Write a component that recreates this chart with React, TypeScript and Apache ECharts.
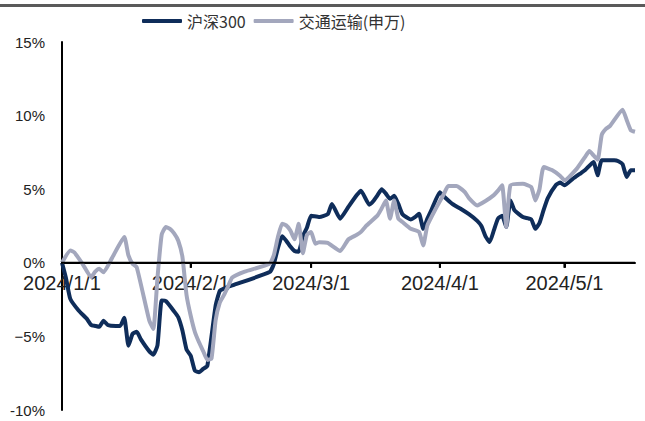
import React, { useEffect, useRef } from "react";
import * as echarts from "echarts";

const seriesNames = ["沪深300", "交通运输(申万)"];

const yTickValues = [-10, -5, 0, 5, 10, 15];
const yTickLabels = ["-10%", "−5%", "0%", "5%", "10%", "15%"];

const monthTicks = ["2024-01-01", "2024-02-01", "2024-03-01", "2024-04-01", "2024-05-01"];
const xEnd = "2024-05-18";

const hs300Dates = [
  "2024-01-01", "2024-01-02", "2024-01-03", "2024-01-05", "2024-01-07", "2024-01-08", "2024-01-09",
  "2024-01-10", "2024-01-11", "2024-01-12", "2024-01-14", "2024-01-15", "2024-01-16", "2024-01-17",
  "2024-01-18", "2024-01-19", "2024-01-20", "2024-01-22", "2024-01-23", "2024-01-24", "2024-01-25",
  "2024-01-26", "2024-01-28", "2024-01-29", "2024-01-30", "2024-01-31",
  "2024-02-01", "2024-02-02", "2024-02-03", "2024-02-04", "2024-02-05", "2024-02-07", "2024-02-08",
  "2024-02-09", "2024-02-11", "2024-02-20", "2024-02-21", "2024-02-22", "2024-02-23", "2024-02-24",
  "2024-02-25", "2024-02-26", "2024-02-27", "2024-02-28", "2024-02-29",
  "2024-03-01", "2024-03-03", "2024-03-05", "2024-03-06", "2024-03-08", "2024-03-10", "2024-03-12",
  "2024-03-13", "2024-03-15", "2024-03-16", "2024-03-17", "2024-03-18", "2024-03-19", "2024-03-20",
  "2024-03-21", "2024-03-22", "2024-03-23", "2024-03-25", "2024-03-26", "2024-03-27", "2024-03-28",
  "2024-03-29", "2024-03-30",
  "2024-04-01", "2024-04-02", "2024-04-04", "2024-04-06", "2024-04-08", "2024-04-10", "2024-04-11",
  "2024-04-12", "2024-04-13", "2024-04-14", "2024-04-15", "2024-04-16", "2024-04-17", "2024-04-18",
  "2024-04-19", "2024-04-21", "2024-04-23", "2024-04-24", "2024-04-25", "2024-04-26", "2024-04-27",
  "2024-04-29", "2024-04-30",
  "2024-05-01", "2024-05-03", "2024-05-05", "2024-05-06", "2024-05-08", "2024-05-09", "2024-05-10",
  "2024-05-13", "2024-05-14", "2024-05-15", "2024-05-16", "2024-05-17", "2024-05-18",
];
const hs300Values = [
  0, -1.09, -2.45, -3.24, -3.81, -4.22, -4.29,
  -4.35, -3.93, -4.22, -4.29, -4.29, -3.74, -5.63,
  -4.83, -4.69, -5.2, -6.0, -6.24, -5.6, -2.56,
  -2.6, -3.3, -3.7, -4.6, -5.9,
  -6.31, -7.33, -7.44, -7.21, -7.0, -2.9, -1.9,
  -1.75, -1.54, -0.63, -0.1, 1.0, 1.8, 1.5,
  1.1, 0.8, 0.75, 1.8, 2.4,
  3.2, 3.11, 3.3, 4.0, 3.0, 3.81, 4.6,
  4.9, 3.95, 4.2, 4.6, 5.0, 4.7, 4.35,
  4.55, 4.0, 3.3, 2.95, 3.1, 3.33, 2.31,
  3.0, 3.6,
  4.8, 4.5, 4.0, 3.67, 3.3, 2.85, 2.5,
  1.8, 1.41, 2.2, 3.0, 3.2, 2.43, 4.24,
  3.56, 3.11, 2.95, 2.31, 2.7, 3.6, 4.4,
  5.3, 5.45,
  5.26, 5.7, 6.1, 6.3, 6.85, 5.94, 6.96,
  6.96, 6.9, 6.7, 5.83, 6.28, 6.28,
];

const transportDates = [
  "2024-01-01", "2024-01-03", "2024-01-04", "2024-01-06", "2024-01-08", "2024-01-09", "2024-01-10",
  "2024-01-11", "2024-01-13", "2024-01-16", "2024-01-17", "2024-01-18", "2024-01-19", "2024-01-22",
  "2024-01-23", "2024-01-24", "2024-01-25", "2024-01-26", "2024-01-27", "2024-01-28", "2024-01-29",
  "2024-01-30", "2024-01-31",
  "2024-02-01", "2024-02-02", "2024-02-03", "2024-02-04", "2024-02-05", "2024-02-06", "2024-02-07",
  "2024-02-08", "2024-02-09", "2024-02-10", "2024-02-11", "2024-02-14", "2024-02-20", "2024-02-21",
  "2024-02-22", "2024-02-23", "2024-02-24", "2024-02-25", "2024-02-26", "2024-02-27", "2024-02-28",
  "2024-02-29",
  "2024-03-01", "2024-03-02", "2024-03-03", "2024-03-05", "2024-03-08", "2024-03-10", "2024-03-12",
  "2024-03-13", "2024-03-14", "2024-03-15", "2024-03-17", "2024-03-18", "2024-03-19", "2024-03-20",
  "2024-03-21", "2024-03-22", "2024-03-23", "2024-03-25", "2024-03-27", "2024-03-28", "2024-03-29",
  "2024-03-31",
  "2024-04-02", "2024-04-03", "2024-04-05", "2024-04-07", "2024-04-08", "2024-04-10", "2024-04-12",
  "2024-04-14", "2024-04-15", "2024-04-16", "2024-04-17", "2024-04-18", "2024-04-21", "2024-04-23",
  "2024-04-24", "2024-04-25", "2024-04-26", "2024-04-28", "2024-04-30",
  "2024-05-01", "2024-05-04", "2024-05-06", "2024-05-07", "2024-05-08", "2024-05-09", "2024-05-10",
  "2024-05-11", "2024-05-12", "2024-05-15", "2024-05-16", "2024-05-17", "2024-05-18",
];
const transportValues = [
  0, 0.84, 0.7, -0.1, -0.97, -0.6, -0.41,
  -0.65, 0.3, 1.75, 0.5, -0.07, -0.3, -3.9,
  -4.5, -1.0, 1.9, 2.43, 2.3, 2.0, 1.5,
  0.4, -2.2,
  -3.6, -4.7, -5.4, -6.0, -6.6, -6.5, -3.9,
  -2.7, -2.2, -1.6, -1.0, -0.6, -0.07, 0.5,
  1.75, 2.65, 2.54, 2.2, 1.6, 2.65, 0.65,
  1.9,
  2.09, 1.3, 1.4, 1.35, 0.8, 1.6, 1.9,
  2.1, 2.43, 2.7, 3.22, 3.7, 4.24, 3.0,
  4.24, 3.0, 2.77, 2.31, 2.09, 1.18, 2.54,
  3.67,
  4.69, 5.22, 5.22, 4.81, 4.4, 3.9, 4.2,
  4.6, 4.9, 5.26, 2.43, 5.26, 5.37, 5.15,
  4.24, 5.0, 6.51, 6.3, 5.9,
  5.6, 6.4, 7.2, 7.6, 7.3, 7.0, 8.7,
  9.1, 9.3, 10.4, 9.7, 9.0, 8.9,
];

const colors = ["#0f2d5a", "#a3a7bd"];

const GRID_TOP = 42;
const GRID_BOTTOM = 11;
const CHART_H = 421;
const TICK_PX = 5;

const toTs = (s: string) => {
  const [Y, M, D] = s.split("-").map(Number);
  return new Date(Y, M - 1, D).getTime();
};

export default function App() {
  const ref = useRef<HTMLDivElement>(null);

  useEffect(() => {
    if (!ref.current) return;
    const chart = echarts.init(ref.current, null, { renderer: "svg" });
    const day = 24 * 3600 * 1000;
    const yMin = yTickValues[0];
    const yMax = yTickValues[yTickValues.length - 1];
    const plotH = CHART_H - GRID_TOP - GRID_BOTTOM;
    const zeroOffset = -plotH * (0 - yMin) / (yMax - yMin);

    const topBar = {
      type: "rect",
      id: "topbar",
      shape: { x: 0, y: 4, width: 645, height: 3 },
      style: { fill: "#5a5a5a" },
      silent: true,
    };

    const option = {
      animation: false,
      color: colors,
      graphic: [topBar],
      legend: {
        top: 8,
        left: 137,
        itemWidth: 40,
        itemHeight: 4,
        itemGap: 8,
        icon: "roundRect",
        textStyle: { fontSize: 16, color: "#333", fontFamily: "'Noto Sans CJK SC', sans-serif" },
        data: seriesNames,
      },
      grid: { left: 62, right: 10, top: GRID_TOP, bottom: GRID_BOTTOM, containLabel: false },
      xAxis: {
        type: "time",
        position: "bottom",
        offset: zeroOffset,
        min: monthTicks[0],
        max: xEnd,
        splitNumber: 5,
        minInterval: 28 * day,
        maxInterval: 31 * day,
        axisLine: { show: true, onZero: false, lineStyle: { color: "#000", width: 2 } },
        axisTick: { show: true, length: TICK_PX, lineStyle: { color: "#000", width: 2 } },
        splitLine: { show: false },
        axisLabel: {
          fontSize: 20,
          color: "#222",
          margin: 10,
          fontFamily: "'Liberation Sans', Arial, sans-serif",
          formatter: (val: number) => {
            const d = new Date(val);
            return `${d.getFullYear()}/${d.getMonth() + 1}/${d.getDate()}`;
          },
        },
      },
      yAxis: {
        type: "value",
        min: yMin,
        max: yMax,
        interval: 5,
        axisLine: { show: true, lineStyle: { color: "#000", width: 2 } },
        axisTick: { show: false },
        splitLine: { show: false },
        axisLabel: {
          fontSize: 15,
          color: "#222",
          margin: 17,
          fontFamily: "'Liberation Sans', Arial, sans-serif",
          formatter: (v: number) => {
            const i = yTickValues.indexOf(v);
            return i >= 0 ? yTickLabels[i] : String(v);
          },
        },
      },
      series: [
        {
          name: seriesNames[0],
          type: "line",
          showSymbol: false,
          smooth: 0.15,
          lineStyle: { width: 4, color: colors[0] },
          itemStyle: { color: colors[0] },
          data: hs300Dates.map((d, i) => [d, hs300Values[i]]),
        },
        {
          name: seriesNames[1],
          type: "line",
          showSymbol: false,
          smooth: 0.15,
          lineStyle: { width: 4, color: colors[1] },
          itemStyle: { color: colors[1] },
          data: transportDates.map((d, i) => [d, transportValues[i]]),
        },
      ],
    };
    chart.setOption(option as any);

    try {
      const p0 = chart.convertToPixel({ gridIndex: 0 } as any, [toTs(monthTicks[0]), 0]) as any;
      const p1 = chart.convertToPixel({ gridIndex: 0 } as any, [toTs(xEnd), 0]) as any;
      if (p0 && p1 && isFinite(p0[0]) && isFinite(p0[1]) && isFinite(p1[0])) {
        const axisGraphics: any[] = [
          {
            type: "rect",
            id: "zero-axis",
            z: 10,
            silent: true,
            shape: { x: p0[0] - 1, y: p0[1] - 1, width: p1[0] - p0[0] + 1, height: 2 },
            style: { fill: "#000" },
          },
        ];
        monthTicks.slice(1).forEach((m) => {
          const p = chart.convertToPixel({ gridIndex: 0 } as any, [toTs(m), 0]) as any;
          if (p && isFinite(p[0])) {
            axisGraphics.push({
              type: "rect",
              id: "tick-" + m,
              z: 10,
              silent: true,
              shape: { x: p[0] - 1, y: p0[1], width: 2, height: TICK_PX },
              style: { fill: "#000" },
            });
          }
        });
        chart.setOption({ graphic: [topBar, ...axisGraphics] } as any);
      }
    } catch (e) {
      // keep chart as is
    }

    return () => chart.dispose();
  }, []);

  return (
    <div
      ref={ref}
      style={{ position: "absolute", left: 0, top: 0, width: 645, height: 421 }}
    />
  );
}
